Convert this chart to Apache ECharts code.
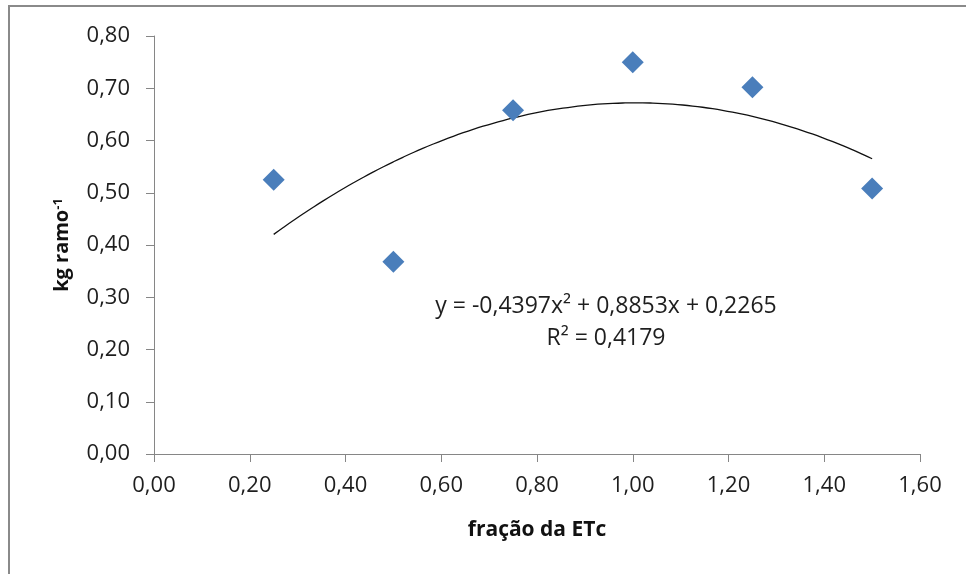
<!DOCTYPE html>
<html>
<head>
<meta charset="utf-8">
<script src="https://cdn.jsdelivr.net/npm/echarts@6/dist/echarts.min.js"></script>
<style>
  html, body { margin: 0; padding: 0; background: #fff; }
  #chart { width: 966px; height: 574px; }
</style>
</head>
<body>
<div id="chart"></div>
<script>
// Measured yield per branch at each ETc fraction
const fractions = [0.25, 0.50, 0.75, 1.00, 1.25, 1.50];
const yields = [0.525, 0.368, 0.658, 0.750, 0.702, 0.508];

// Second-order trendline: y = a*x^2 + b*x + c
const trendCoefs = [-0.4397, 0.8853, 0.2265];
const trendR2 = 0.4179;

const xTicks = [0, 0.2, 0.4, 0.6, 0.8, 1.0, 1.2, 1.4, 1.6];
const yTicks = [0, 0.1, 0.2, 0.3, 0.4, 0.5, 0.6, 0.7, 0.8];

const fmt = (v, d) => v.toFixed(d).replace('.', ',');

const scatterData = fractions.map((x, i) => [x, yields[i]]);

// Trend curve sampled over the observed range of fractions
const trendData = [];
const x0 = fractions[0], x1 = fractions[fractions.length - 1];
const steps = 60;
for (let i = 0; i <= steps; i++) {
  const x = x0 + (x1 - x0) * i / steps;
  trendData.push([x, trendCoefs[0] * x * x + trendCoefs[1] * x + trendCoefs[2]]);
}

const FONT = '"Open Sans"';
const AXIS_COLOR = '#868686';
const TEXT_COLOR = '#1e1e1e';

const chart = echarts.init(document.getElementById('chart'), null, { renderer: 'canvas' });
chart.setOption({
  animation: false,
  backgroundColor: '#ffffff',
  grid: { left: 154, right: 46, top: 36, bottom: 120, containLabel: false },
  xAxis: {
    type: 'value',
    min: xTicks[0],
    max: xTicks[xTicks.length - 1],
    interval: 0.2,
    name: 'fração da ETc',
    nameLocation: 'middle',
    nameGap: 66,
    nameTextStyle: { fontFamily: FONT, fontWeight: 'bold', fontSize: 21, color: '#111' },
    axisLine: { show: true, onZero: false, lineStyle: { color: AXIS_COLOR, width: 1 } },
    axisTick: { show: true, length: 8, inside: false, lineStyle: { color: AXIS_COLOR } },
    splitLine: { show: false },
    axisLabel: {
      margin: 21,
      fontFamily: FONT, fontSize: 22, color: TEXT_COLOR,
      formatter: v => fmt(v, 2)
    }
  },
  yAxis: {
    type: 'value',
    min: yTicks[0],
    max: yTicks[yTicks.length - 1],
    interval: 0.1,
    name: '{a|kg ramo}{s|-1}',
    nameLocation: 'middle',
    nameRotate: 90,
    nameGap: 81,
    nameTextStyle: {
      color: '#111',
      rich: {
        a: { fontFamily: FONT, fontWeight: 'bold', fontSize: 20, color: '#111' },
        s: { fontFamily: FONT, fontWeight: 'bold', fontSize: 13, color: '#111', verticalAlign: 'top', padding: [0, 0, 8, 0] }
      }
    },
    axisLine: { show: true, onZero: false, lineStyle: { color: AXIS_COLOR, width: 1 } },
    axisTick: { show: true, length: 8, inside: false, lineStyle: { color: AXIS_COLOR } },
    splitLine: { show: false },
    axisLabel: {
      margin: 24,
      fontFamily: FONT, fontSize: 22, color: TEXT_COLOR,
      formatter: v => fmt(v, 2)
    }
  },
  series: [
    {
      type: 'line',
      data: trendData,
      showSymbol: false,
      symbol: 'none',
      smooth: true,
      lineStyle: { color: '#111', width: 1.3 },
      z: 2
    },
    {
      type: 'scatter',
      data: scatterData,
      symbol: 'diamond',
      symbolSize: 22,
      itemStyle: { color: '#4a7ebb', opacity: 1 },
      z: 3
    }
  ],
  graphic: [
    {
      type: 'polyline',
      shape: { points: [[9, 620], [9, 6], [1000, 6]] },
      style: { stroke: '#8a8a8a', lineWidth: 2, fill: null },
      silent: true
    },
    {
      type: 'text',
      style: {
        text: 'y = ' + fmt(trendCoefs[0], 4) + 'x² + ' + fmt(trendCoefs[1], 4) + 'x + ' + fmt(trendCoefs[2], 4),
        x: 606, y: 306,
        align: 'center', verticalAlign: 'middle',
        font: '23px ' + FONT, fill: TEXT_COLOR
      },
      silent: true
    },
    {
      type: 'text',
      style: {
        text: 'R² = ' + fmt(trendR2, 4),
        x: 606, y: 338,
        align: 'center', verticalAlign: 'middle',
        font: '23px ' + FONT, fill: TEXT_COLOR
      },
      silent: true
    }
  ]
});
</script>
</body>
</html>
